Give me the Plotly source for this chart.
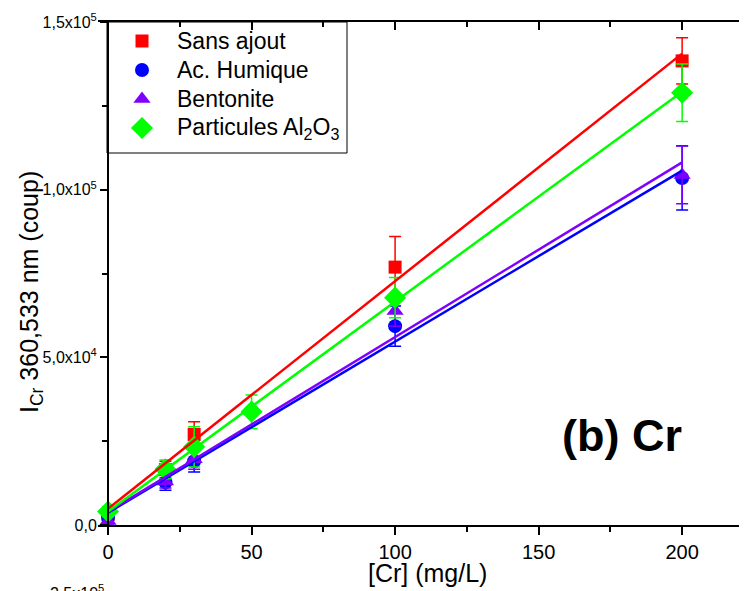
import numpy as np
import plotly.graph_objects as go

# ---------------- data ----------------
x_conc = [0, 20, 30, 100, 200]
x_conc_al2o3 = [0, 20, 30, 50, 100, 200]

sans_ajout = [3000, 16500, 27000, 76900, 138400]
sans_ajout_err = [800, 2500, 3800, 9100, 6900]

ac_humique = [2400, 12700, 19000, 59300, 103500]
ac_humique_err = [1000, 2300, 3200, 6000, 9600]

bentonite = [1200, 13000, 19600, 63800, 104400]
bentonite_err = [1000, 2000, 3000, 4500, 8600]

al2o3 = [4000, 16600, 23300, 33800, 67800, 128900]
al2o3_err = [1500, 2800, 6000, 5000, 6000, 8600]

series_names = ["Sans ajout", "Ac. Humique", "Bentonite", "Particules Al<sub>2</sub>O<sub>3</sub>"]

x_tick_vals = [0, 50, 100, 150, 200]
y_tick_vals = [0, 50000, 100000, 150000]
y_tick_text = ["0,0", "5,0x10<sup>4</sup>", "1,0x10<sup>5</sup>", "1,5x10<sup>5</sup>"]

# ---------------- styling / layout constants ----------------
FONT = "Liberation Sans, Arial, sans-serif"
colors = ["#FF0000", "#0000FF", "#7F00FF", "#00FF00"]
symbols = ["square", "circle", "triangle-up", "diamond"]
sizes = [13, 14, 15, 17]

# page-pixel geometry of the plot area (page has an 8px body margin)
PA_LEFT, PA_RIGHT, PA_TOP, PA_BOTTOM = 98, 747, 22, 525
BODY = 8
PA_W = PA_RIGHT - PA_LEFT
PA_H = PA_BOTTOM - PA_TOP


def px(xp):
    return (xp - PA_LEFT) / PA_W


def py(yp):
    return 1 - (yp - PA_TOP) / PA_H


series = [
    (x_conc, sans_ajout, sans_ajout_err),
    (x_conc, ac_humique, ac_humique_err),
    (x_conc, bentonite, bentonite_err),
    (x_conc_al2o3, al2o3, al2o3_err),
]

fig = go.Figure()

# markers with error bars
for (xs, ys, es), name, c, s, sz in zip(series, series_names, colors, symbols, sizes):
    fig.add_trace(go.Scatter(
        x=xs, y=ys, mode="markers", name=name, showlegend=False,
        marker=dict(symbol=s, size=sz, color=c, line=dict(width=0)),
        error_y=dict(type="data", array=es, color=c, thickness=1.5, width=6),
        cliponaxis=False,
    ))

# linear fits
for (xs, ys, es), c in zip(series, colors):
    slope, intercept = np.polyfit(xs, ys, 1)
    xl = np.array([min(xs), max(xs)], dtype=float)
    fig.add_trace(go.Scatter(
        x=xl, y=slope * xl + intercept, mode="lines",
        line=dict(color=c, width=2.5), showlegend=False, hoverinfo="skip",
    ))

# top axis with inward ticks (frame)
fig.add_trace(go.Scatter(x=[None], y=[None], xaxis="x2", showlegend=False))

# ---------------- hand-built legend (pixel overlay axes) ----------------
LEG_BOX = (107, 22, 347, 153)
LEG_ROW0, LEG_ROW_STEP, LEG_MARK_X, LEG_TEXT_X = 41, 29, 142, 175
fig.add_shape(type="rect", xref="paper", yref="paper",
              x0=px(LEG_BOX[0]), x1=px(LEG_BOX[2]), y0=py(LEG_BOX[3]), y1=py(LEG_BOX[1]),
              line=dict(color="black", width=1), fillcolor="white", layer="below")
for i, (name, c, s, sz) in enumerate(zip(series_names, colors, symbols, sizes)):
    yrow = LEG_ROW0 + i * LEG_ROW_STEP
    fig.add_trace(go.Scatter(
        x=[LEG_MARK_X], y=[yrow], xaxis="x3", yaxis="y3", mode="markers",
        marker=dict(symbol=s, size=sz, color=c, line=dict(width=0)),
        showlegend=False, hoverinfo="skip", cliponaxis=False,
    ))
    fig.add_annotation(text=name, xref="x3", yref="y3", x=LEG_TEXT_X, y=yrow,
                       xanchor="left", yanchor="middle", showarrow=False,
                       font=dict(size=23, family=FONT))

x_range = [-3.5, 222.6]
fig.update_layout(
    width=747, height=591,
    margin=dict(l=PA_LEFT - BODY, r=747 - (PA_RIGHT - BODY), t=PA_TOP - BODY,
                b=591 - (PA_BOTTOM - BODY), pad=0),
    paper_bgcolor="white", plot_bgcolor="white",
    font=dict(family=FONT, color="black"),
    showlegend=False,
    xaxis=dict(
        range=x_range, showgrid=False, zeroline=False,
        showline=True, linecolor="black", linewidth=2,
        tickvals=x_tick_vals, ticks="outside", ticklen=8, tickwidth=1.5,
        tickcolor="black", tickfont=dict(size=20, family=FONT),
        minor=dict(dtick=25, tick0=0, ticks="outside", ticklen=5, tickwidth=1.5, tickcolor="black"),
        automargin=False,
    ),
    xaxis2=dict(
        range=x_range, overlaying="x", side="top", anchor="y",
        showgrid=False, zeroline=False, showline=True, linecolor="black", linewidth=2,
        tickvals=x_tick_vals, ticks="inside", ticklen=8, tickwidth=1.5, tickcolor="black",
        showticklabels=False,
        minor=dict(dtick=25, tick0=0, ticks="inside", ticklen=5, tickwidth=1.5, tickcolor="black"),
        automargin=False,
    ),
    xaxis3=dict(range=[PA_LEFT, PA_RIGHT], overlaying="x", anchor="y3", visible=False,
                fixedrange=True),
    yaxis3=dict(range=[PA_BOTTOM, PA_TOP], overlaying="y", anchor="x3", visible=False,
                fixedrange=True),
    yaxis=dict(
        range=[0, 150000], showgrid=False, zeroline=False,
        showline=True, linecolor="black", linewidth=2,
        anchor="free", position=-x_range[0] / (x_range[1] - x_range[0]),
        tickvals=y_tick_vals, ticktext=y_tick_text,
        ticks="outside", ticklen=7, tickwidth=1.5, tickcolor="black",
        tickfont=dict(size=16, family=FONT),
        minor=dict(dtick=25000, tick0=0, ticks="outside", ticklen=5, tickwidth=1.5, tickcolor="black"),
        automargin=False,
    ),
)

# x axis title
fig.add_annotation(
    text="[Cr] (mg/L)", xref="paper", yref="paper",
    x=px(427), y=py(573), xanchor="center", yanchor="middle", showarrow=False,
    font=dict(size=25, family=FONT),
)

# y axis title
fig.add_annotation(
    text="I<sub>Cr</sub> 360,533 nm (coup)", textangle=-90,
    xref="paper", yref="paper", x=px(31), y=py(292),
    xanchor="center", yanchor="middle", showarrow=False,
    font=dict(size=25, family=FONT),
)

# panel label
fig.add_annotation(
    text="<b>(b) Cr</b>", xref="paper", yref="paper",
    x=px(622), y=py(435),
    xanchor="center", yanchor="middle", showarrow=False,
    font=dict(size=45, family=FONT),
)

# cut-off tick label of the next panel below
fig.add_annotation(
    text="2,5x10<sup>5</sup>", xref="paper", yref="paper",
    x=px(48), y=py(580), xanchor="left", yanchor="top", showarrow=False,
    font=dict(size=16, family=FONT),
)

fig.write_html("out.html")
